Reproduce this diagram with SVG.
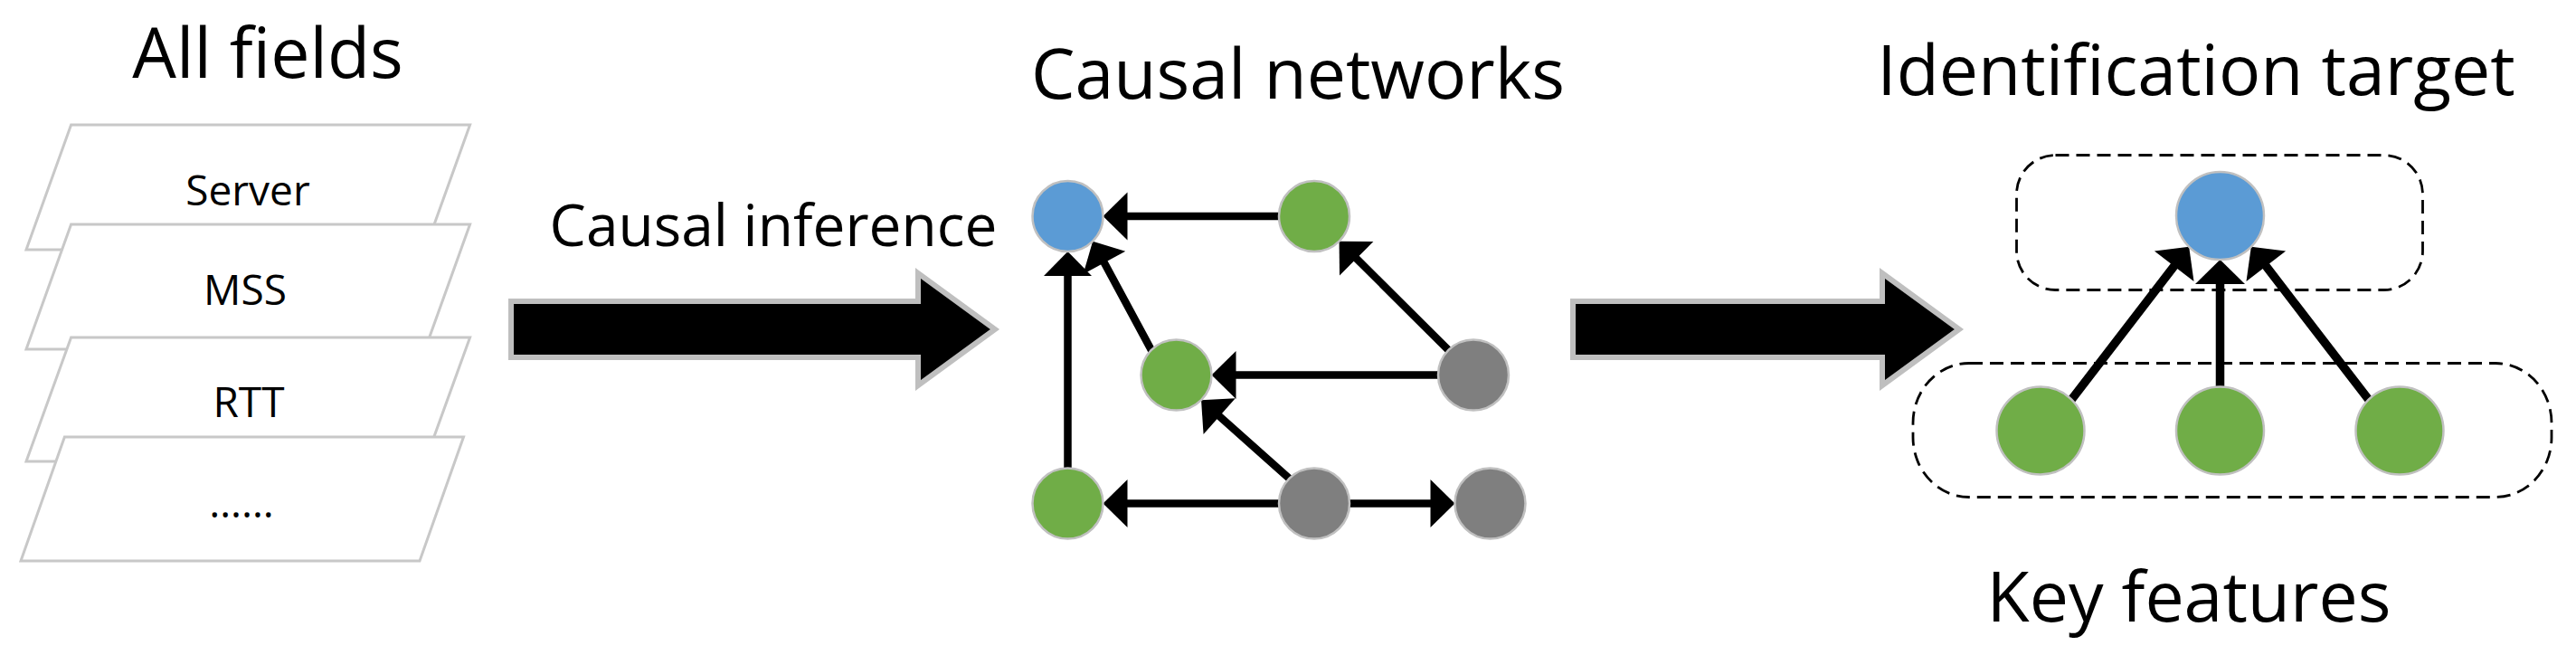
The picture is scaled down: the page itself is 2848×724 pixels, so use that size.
<svg xmlns="http://www.w3.org/2000/svg" width="2848" height="724" viewBox="0 0 2848 724">
<style>
text{font-family:"Open Sans","Noto Sans","Liberation Sans",sans-serif;fill:#000;text-anchor:middle}
.h{font-size:77px}
.sub{font-size:64px}
.f{font-size:46px}
.sheet{fill:#fff;stroke:#c8c8c8;stroke-width:3;stroke-linejoin:miter}
.big{fill:#000;stroke:#bfbfbf;stroke-width:6;stroke-linejoin:miter}
.n{stroke:#c0c0c0;stroke-width:2.5}
.blue{fill:#5b9bd5}.green{fill:#70ad47}.gray{fill:#7f7f7f}
.e{stroke:#000;stroke-width:8.5;stroke-linecap:round;fill:none;marker-end:url(#ah)}
.e2{stroke:#000;stroke-width:9.5;stroke-linecap:round;fill:none;marker-end:url(#ah2)}
.grp{fill:none;stroke:#000;stroke-width:2.8;stroke-dasharray:15 8}
</style>
<defs>
<marker id="ah" markerUnits="userSpaceOnUse" viewBox="0 -27 28 54" markerWidth="28" markerHeight="54" refX="0" refY="0" orient="auto" overflow="visible">
<path d="M0,-26.5 L27,0 L0,26.5 Z" fill="#000"/>
</marker>
<marker id="ah2" markerUnits="userSpaceOnUse" viewBox="0 -28 28 56" markerWidth="28" markerHeight="56" refX="0" refY="0" orient="auto" overflow="visible">
<path d="M0,-27.5 L27,0 L0,27.5 Z" fill="#000"/>
</marker>
</defs>
<rect width="2848" height="724" fill="#fff"/>

<g id="all-fields">
<text class="h" x="296" y="86">All fields</text>
<g id="sheet-server"><polygon class="sheet" points="78.6,138 519.6,138 470,276 29,276"/><text class="f" x="274" y="227">Server</text></g>
<g id="sheet-mss"><polygon class="sheet" points="78.6,248 519.6,248 470,386 29,386"/><text class="f" x="271" y="337">MSS</text></g>
<g id="sheet-rtt"><polygon class="sheet" points="78.6,373 519.6,373 470,510 29,510"/><text class="f" x="275" y="461">RTT</text></g>
<g id="sheet-more"><polygon class="sheet" points="71.4,483 512.5,483 464,620 23,620"/><text class="f" x="267" y="572">……</text></g>
</g>

<g id="step-causal-inference">
<text class="sub" x="855" y="272">Causal inference</text>
<polygon class="big" points="565,333 1015,333 1015,302 1100,364 1015,426 1015,395 565,395"/>
</g>

<g id="step-identify">
<polygon class="big" points="1739,333 2081,333 2081,302 2166,364 2081,426 2081,395 1739,395"/>
</g>

<text class="h" x="1435" y="109">Causal networks</text>
<text class="h" x="2428" y="105">Identification target</text>
<text class="h" x="2420" y="687">Key features</text>

<g id="connectors">
<line class="e" x1="1414" y1="239" x2="1246.5" y2="239"/>
<line class="e" x1="1180.5" y1="517.5" x2="1180.5" y2="305"/>
<line class="e" x1="1272.9" y1="386.9" x2="1220.9" y2="290.4"/>
<line class="e" x1="1601.4" y1="386.9" x2="1499.7" y2="285.7"/>
<line class="e" x1="1590" y1="414.5" x2="1366.5" y2="414.5"/>
<line class="e" x1="1425.4" y1="528.9" x2="1348.2" y2="460.1"/>
<line class="e" x1="1414" y1="556.5" x2="1246.5" y2="556.5"/>
<line class="e" x1="1492" y1="556.5" x2="1581.5" y2="556.5"/>
<line class="e2" x1="2290.3" y1="441.7" x2="2403.7" y2="294.2"/>
<line class="e2" x1="2454.5" y1="427.5" x2="2454.5" y2="314"/>
<line class="e2" x1="2618.7" y1="441.7" x2="2505.3" y2="294.2"/>
</g>

<g id="net-A"><circle class="n blue" cx="1180.5" cy="239" r="39"/></g>
<g id="net-B"><circle class="n green" cx="1453" cy="239" r="39"/></g>
<g id="net-C"><circle class="n green" cx="1300.5" cy="414.5" r="39"/></g>
<g id="net-D"><circle class="n gray" cx="1629" cy="414.5" r="39"/></g>
<g id="net-E"><circle class="n green" cx="1180.5" cy="556.5" r="39"/></g>
<g id="net-F"><circle class="n gray" cx="1453" cy="556.5" r="39"/></g>
<g id="net-G"><circle class="n gray" cx="1647.5" cy="556.5" r="39"/></g>

<g id="group-target"><rect class="grp" x="2229.5" y="171.5" width="449" height="149" rx="43" ry="43"/></g>
<g id="group-features"><rect class="grp" x="2115" y="401.5" width="706" height="148" rx="62" ry="66"/></g>
<g id="target"><circle class="n blue" cx="2454.5" cy="238.5" r="48.5"/></g>
<g id="feature-1"><circle class="n green" cx="2256" cy="476" r="48.5"/></g>
<g id="feature-2"><circle class="n green" cx="2454.5" cy="476" r="48.5"/></g>
<g id="feature-3"><circle class="n green" cx="2653" cy="476" r="48.5"/></g>
</svg>
